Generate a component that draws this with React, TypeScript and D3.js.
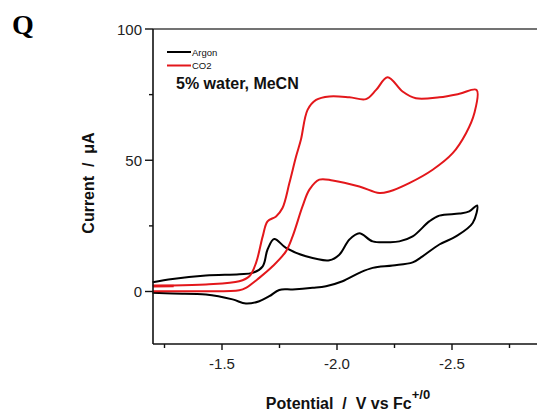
import React from "react";
import * as d3 from "d3";

// Argon CV: forward scan (to -2.61 V) then return scan
const argonPotential = [
  -1.198, -1.285, -1.43, -1.575, -1.633, -1.677, -1.698, -1.727, -1.778, -1.865, -1.967, -2.01, -2.054, -2.097,
  -2.155, -2.227, -2.271, -2.329, -2.401, -2.445, -2.532, -2.575, -2.609,
  -2.59, -2.517, -2.445, -2.372, -2.329, -2.242, -2.155, -2.097, -2.024, -1.952, -1.894, -1.807, -1.749,
  -1.706, -1.662, -1.604, -1.546, -1.43, -1.285, -1.198,
];
const argonCurrent = [
  3.5, 4.8, 6.1, 6.6, 7.1, 9.6, 16, 20, 16.6, 13.4, 11.9, 14, 19.8, 22.2,
  19.1, 18.8, 19.1, 21, 26.7, 28.9, 29.7, 30.5, 32.8,
  26.1, 21, 17.9, 13.4, 11.1, 9.9, 9, 7.1, 3.9, 2, 1.4, 0.8, 0.6,
  -1.8, -3.7, -4.6, -3, -1.1, -0.8, -0.5,
];

// CO2 CV: forward scan then return scan
const co2Potential = [
  -1.198, -1.285, -1.43, -1.575, -1.619, -1.648, -1.677, -1.698, -1.735, -1.763, -1.793, -1.822, -1.843,
  -1.872, -1.909, -1.967, -2.054, -2.126, -2.17, -2.22, -2.285, -2.343, -2.445, -2.532, -2.607,
  -2.597, -2.561, -2.503, -2.416, -2.314, -2.227, -2.184, -2.097, -1.981, -1.923, -1.88, -1.85, -1.807,
  -1.778, -1.72, -1.662, -1.604, -1.575, -1.43, -1.285, -1.198,
];
const co2Current = [
  2.3, 2.3, 2.7, 3.9, 5.8, 10.9, 21, 26.7, 28.6, 31.8, 41.3, 51.4, 57.8,
  69.2, 73, 74.3, 74, 73.3, 76.8, 81.6, 76.2, 73.6, 74, 75.3, 76.8,
  67.9, 60.3, 52.7, 46.4, 41.3, 38.1, 37.5, 40, 42.3, 42.6, 38.8, 32.4, 21,
  15.3, 9.6, 5.2, 1.4, 0.5, 0.1, 0.1, 0.1,
];
// short initial segment of the CO2 scan
const co2StartPotential = [-1.2, -1.29];
const co2StartCurrent = [2.0, 2.1];

const xMajorTicks = [-1.5, -2.0, -2.5];
const xMinorTicks = [-1.25, -1.75, -2.25, -2.75];
const yMajorTicks = [0, 50, 100];
const yMinorTicks = [25, 75];

const seriesNames = ["Argon", "CO2"];
const seriesColors = ["#000000", "#e3171b"];

export default function App() {
  const W = 537;
  const H = 415;
  const left = 153;
  const top = 29;
  const bottom = 344;
  const x = d3.scaleLinear().domain([-1.2, -3.0]).range([left, 567]);
  const y = d3.scaleLinear().domain([-20, 100]).range([bottom, top]);
  const line = d3
    .line<[number, number]>()
    .x((d) => x(d[0]))
    .y((d) => y(d[1]))
    .curve(d3.curveCatmullRom.alpha(0.5));
  const zip = (a: number[], b: number[]) => a.map((v, i) => [v, b[i]] as [number, number]);
  const font = "Arial, 'Liberation Sans', sans-serif";

  return (
    <svg
      width={W}
      height={H}
      style={{ position: "absolute", left: 0, top: 0, background: "#fff" }}
    >
      <text x={12} y={34} fontFamily="'Liberation Serif', 'Times New Roman', serif" fontWeight="bold" fontSize={28}>
        Q
      </text>

      {/* curves */}
      <path d={line(zip(argonPotential, argonCurrent)) || ""} fill="none" stroke={seriesColors[0]} strokeWidth={2} />
      <path d={line(zip(co2Potential, co2Current)) || ""} fill="none" stroke={seriesColors[1]} strokeWidth={2} />
      <path d={line(zip(co2StartPotential, co2StartCurrent)) || ""} fill="none" stroke={seriesColors[1]} strokeWidth={2.5} />

      {/* frame */}
      <line x1={left} x2={W} y1={top} y2={top} stroke="#444" strokeWidth={1.6} />
      <line x1={left} x2={W} y1={bottom} y2={bottom} stroke="#111" strokeWidth={1.6} />
      <line x1={left} x2={left} y1={top} y2={bottom} stroke="#111" strokeWidth={1.6} />

      {/* x ticks */}
      {xMajorTicks.map((t) => (
        <g key={"xm" + t}>
          <line x1={x(t)} x2={x(t)} y1={bottom} y2={bottom + 6} stroke="#111" strokeWidth={1.4} />
          <text x={x(t)} y={369} textAnchor="middle" fontFamily={font} fontSize={15} fill="#222">
            {t.toFixed(1)}
          </text>
        </g>
      ))}
      {xMinorTicks.map((t) => (
        <line key={"xn" + t} x1={x(t)} x2={x(t)} y1={bottom} y2={bottom + 4} stroke="#111" strokeWidth={1.4} />
      ))}

      {/* y ticks */}
      {yMajorTicks.map((t) => (
        <g key={"ym" + t}>
          <line x1={left - 8} x2={left} y1={y(t)} y2={y(t)} stroke="#111" strokeWidth={1.4} />
          <text x={142} y={y(t) + 5.5} textAnchor="end" fontFamily={font} fontSize={15} fill="#222">
            {t}
          </text>
        </g>
      ))}
      {yMinorTicks.map((t) => (
        <line key={"yn" + t} x1={left - 4} x2={left} y1={y(t)} y2={y(t)} stroke="#111" strokeWidth={1.4} />
      ))}

      {/* axis titles */}
      <text
        x={348}
        y={409}
        textAnchor="middle"
        fontFamily={font}
        fontWeight="bold"
        fontSize={16}
        fill="#111"
        style={{ whiteSpace: "pre" }}
      >
        {"Potential  /  V vs Fc"}
        <tspan dy={-10} fontSize={13}>+/0</tspan>
      </text>
      <text
        transform={`translate(94, 183) rotate(-90)`}
        textAnchor="middle"
        fontFamily={font}
        fontWeight="bold"
        fontSize={16}
        fill="#111"
        style={{ whiteSpace: "pre" }}
      >
        {"Current  /  μA"}
      </text>

      {/* legend */}
      {seriesNames.map((n, i) => (
        <g key={n}>
          <line x1={167} x2={191} y1={52 + i * 13.5} y2={52 + i * 13.5} stroke={seriesColors[i]} strokeWidth={2} />
          <text x={192} y={55.5 + i * 13.5} fontFamily={font} fontSize={9.5} fill="#111">
            {n}
          </text>
        </g>
      ))}
      <text x={176} y={89} fontFamily={font} fontWeight="bold" fontSize={16} fill="#111">
        5% water, MeCN
      </text>
    </svg>
  );
}
